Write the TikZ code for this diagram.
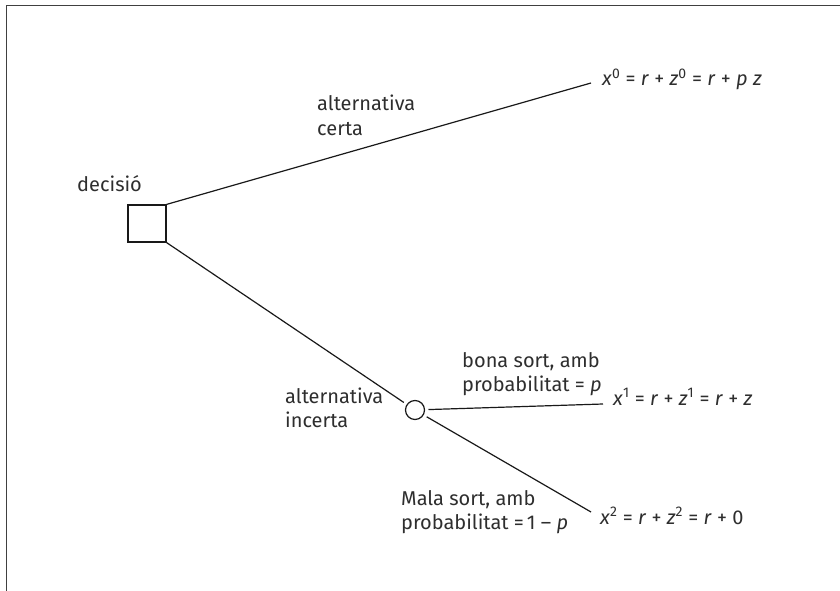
\documentclass[tikz,border=0pt]{standalone}
\usepackage{fontspec}
\setmainfont{Fira Sans}
\newcommand{\vr}[1]{\textit{#1}}
\newcommand{\ix}[1]{\textsuperscript{#1}}
% two-line label whose baseline is that of its first line
\newcommand{\twoline}[2]{\begin{tabular}[t]{@{}l@{}}#1\\#2\end{tabular}}
\begin{document}
\begin{tikzpicture}[x=1bp,y=-1bp,
  lbl/.style={anchor=base west, inner sep=0pt, text=black!82,
              font=\fontsize{20bp}{24.5bp}\selectfont},
  branch/.style={line width=1.2bp, black!90},
  frame/.style={line width=1.6bp, black!75},
  decbox/.style={draw, line width=1.2bp, black!90, minimum width=38bp,
                 minimum height=37bp, inner sep=0pt},
  chancenode/.style={draw, circle, line width=1.2bp, black!90, minimum size=19bp,
                     inner sep=0pt, outer sep=4bp}]
\useasboundingbox (0,0) rectangle (840,591);

% open frame: left and top edges
\draw[frame] (6.5,591) -- (6.5,5.5) -- (840,5.5);

% decision and chance nodes
\node[decbox] (dec) at (147,223.5) {};
\node[chancenode] (chance) at (415,410) {};

% free ends of the branches
\coordinate (o0) at (591,83);
\coordinate (o1) at (603,404);
\coordinate (o2) at (591,512);

\draw[branch] (dec.north east) -- (o0);
\draw[branch] (dec.south east) -- (chance);
\draw[branch] (chance) -- (o1);
\draw[branch] (chance) -- (o2);

% labels
\node[lbl] (ldec) at (77,192) {decisió};
\node[lbl] (lcerta) at (317,110.7) {\twoline{alternativa}{certa}};
\node[lbl] (lincerta) at (285,403) {\twoline{alternativa}{incerta}};
\node[lbl] (lbona) at (462,367) {\twoline{bona sort, amb}{probabilitat = \vr{p}}};
\node[lbl] (lmala) at (401,505) {\twoline{Mala sort, amb}{probabilitat =\kern3bp1 – \vr{p}}};

% outcomes
\node[lbl] (r0) at (602,86) {\vr{x}\ix{0} = \vr{r} + \vr{z}\ix{0} = \vr{r} + \vr{p} \vr{z}};
\node[lbl] (r1) at (613,405) {\vr{x}\ix{1} = \vr{r} + \vr{z}\ix{1} = \vr{r} + \vr{z}};
\node[lbl] (r2) at (600,524) {\vr{x}\ix{2} = \vr{r} + \vr{z}\ix{2} = \vr{r} + 0};
\end{tikzpicture}
\end{document}
